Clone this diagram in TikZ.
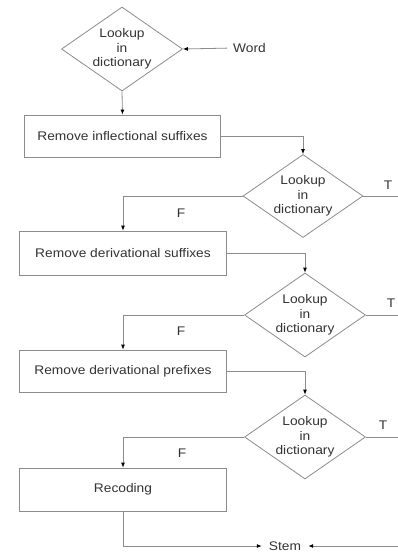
\documentclass[tikz,border=0pt]{standalone}
\usepackage{fontspec}
\setmainfont[FakeStretch=1.1]{Liberation Sans}
\usetikzlibrary{shapes.geometric,arrows.meta}
\newcommand{\fs}{\fontsize{12.5}{14.5}\selectfont}
\begin{document}
\begin{tikzpicture}[x=1pt,y=-1pt,
  line/.style={draw=black!45, line width=0.8pt},
  arr/.style={line, -{Latex[length=5pt,width=4pt,black]}},
  proc/.style={rectangle, draw=black!45, line width=0.8pt, minimum width=207pt, minimum height=43pt, inner sep=0pt, font=\fs, text=black!80},
  dec/.style={diamond, draw=black!45, line width=0.8pt, aspect=1.43, minimum width=121pt, minimum height=84pt, inner sep=0pt, align=center, font=\fs, text=black!80},
  lab/.style={font=\fs, inner sep=0pt, text=black!80}]
\clip (0,0) rectangle (398,552);
\fill[white] (0,0) rectangle (398,552);

\node[dec] (d1) at (122,49) {Lookup\\in\\dictionary};
\node[lab, anchor=west] (word) at (233,48) {Word};
\node[proc, minimum width=196pt, minimum height=42pt] (b1) at (122.5,136) {Remove inflectional suffixes};

\node[dec, minimum width=120pt, minimum height=83pt] (d2) at (303,196) {Lookup\\in\\dictionary};
\node[proc, minimum height=44pt] (b2) at (123,253) {Remove derivational suffixes};

\node[dec] (d3) at (305,315) {Lookup\\in\\dictionary};
\node[proc, minimum height=42pt] (b3) at (123,371) {Remove derivational prefixes};

\node[dec] (d4) at (305,437) {Lookup\\in\\dictionary};
\node[proc] (b4) at (123,489.5) {Recoding};

\node[lab, inner xsep=7pt] (stem) at (285,546) {Stem};

\node[lab] (f1) at (181,213) {F};
\node[lab] (f2) at (181,331) {F};
\node[lab] (f3) at (182,453) {F};
\node[lab] (t1) at (388,185) {T};
\node[lab] (t2) at (391,303) {T};
\node[lab] (t3) at (383,425) {T};

\coordinate (r1) at (400,196);
\coordinate (r2) at (400,315);
\coordinate (r3) at (400,437);
\coordinate (r4) at (400,546);

\draw[arr, shorten <=6pt] (word.west) -- (d1.east);
\draw[arr] (d1.south) -- (b1.north);
\draw[arr] (b1.east) -| (d2.north);
\draw[arr] (d2.west) -| (b2.north);
\draw[arr] (b2.east) -| (d3.north);
\draw[arr] (d3.west) -| (b3.north);
\draw[arr] (b3.east) -| (d4.north);
\draw[arr] (d4.west) -| (b4.north);
\draw[arr] (b4.south) |- (stem.west);
\draw[line] (d2.east) -- (r1);
\draw[line] (d3.east) -- (r2);
\draw[line] (d4.east) -- (r3);
\draw[line] (r1) -- (r4);
\draw[arr] (r4) -- (stem.east);
\end{tikzpicture}
\end{document}
